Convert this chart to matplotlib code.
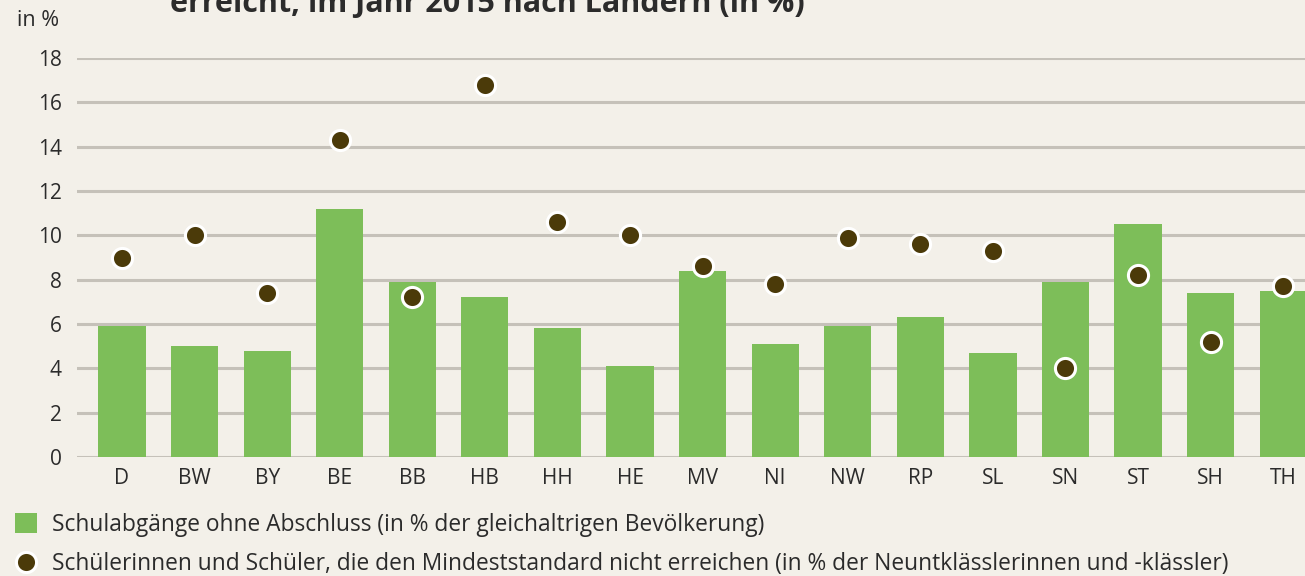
import matplotlib.pyplot as plt
import numpy as np

laender = ['D', 'BW', 'BY', 'BE', 'BB', 'HB', 'HH', 'HE', 'MV', 'NI',
           'NW', 'RP', 'SL', 'SN', 'ST', 'SH', 'TH']
ohne_abschluss = [5.9, 5.0, 4.8, 11.2, 7.9, 7.2, 5.8, 4.1, 8.4, 5.1,
                  5.9, 6.3, 4.7, 7.9, 10.5, 7.4, 7.5]
unter_mindeststandard = [9.0, 10.0, 7.4, 14.3, 7.2, 16.8, 10.6, 10.0, 8.6, 7.8,
                         9.9, 9.6, 9.3, 4.0, 8.2, 5.2, 7.7]
y_ticks = [0, 2, 4, 6, 8, 10, 12, 14, 16, 18]

bg = '#f3f0e9'
green = '#7dbe59'
brown = '#4b3a09'
text_col = '#2b2b2b'
fs = 15

plt.rcParams['font.family'] = ['Open Sans', 'DejaVu Sans']

fig = plt.figure(figsize=(13.05, 5.76), dpi=100, facecolor=bg)
ax = fig.add_axes([77 / 1305, 1 - 457 / 576, 1 - 77 / 1305, (457 - 58) / 576])
ax.set_facecolor(bg)

x = np.arange(len(laender))
bars = ax.bar(x, ohne_abschluss, width=0.65, color=green, zorder=2,
              label='Schulabgänge ohne Abschluss (in % der gleichaltrigen Bevölkerung)')
dots = ax.scatter(x, unter_mindeststandard, s=210, color=brown, edgecolors='white',
                  linewidths=2.2, zorder=3,
                  label='Schülerinnen und Schüler, die den Mindeststandard nicht erreichen '
                        '(in % der Neuntklässlerinnen und -klässler)')

ax.set_ylim(0, 18)
ax.set_xlim(-0.62, 16.3)
ax.set_yticks(y_ticks)
ax.set_xticks(x)
ax.set_xticklabels(laender)
ax.yaxis.grid(True, color='#c5c1b9', linewidth=2.2, zorder=1)
ax.tick_params(axis='both', length=0, labelsize=fs, colors=text_col)
ax.tick_params(axis='y', pad=11)
ax.tick_params(axis='x', pad=8)
for s in ax.spines.values():
    s.set_visible(False)

fig.text(17 / 1305, 1 - 20 / 576, 'in %', fontsize=fs + 0.5, color=text_col,
         ha='left', va='center')
fig.text(170 / 1305, 1 - 12 / 576, 'erreicht, im Jahr 2015 nach Ländern (in %)',
         fontsize=22, fontweight='bold', color=text_col, ha='left', va='baseline')

fig.legend(handles=[bars, dots], loc='upper left', bbox_to_anchor=(15 / 1305, 1 - 513 / 576),
           frameon=False, fontsize=16.4, labelcolor=text_col, handlelength=0.96,
           handleheight=0.96, handletextpad=0.66, labelspacing=0.64,
           borderaxespad=0, borderpad=0)

fig.savefig('out.png', dpi=100, facecolor=bg)
